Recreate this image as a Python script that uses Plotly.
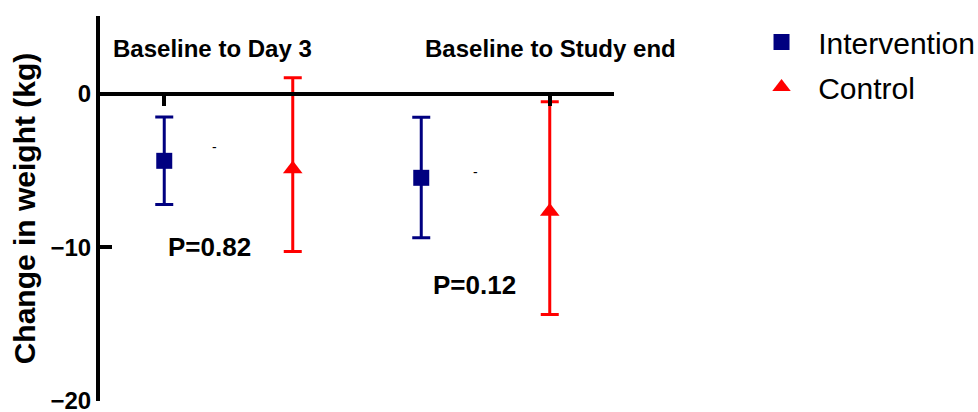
import plotly.graph_objects as go

# Data
positions_int = [1, 3]
positions_ctl = [2, 4]
int_mean = [-4.36, -5.47]
int_upper = [-1.50, -1.52]
int_lower = [-7.21, -9.38]
ctl_mean = [-4.9, -7.67]
ctl_upper = [1.06, -0.50]
ctl_lower = [-10.29, -14.4]
group_labels = ["Baseline to Day 3", "Baseline to Study end"]
p_labels = ["P=0.82", "P=0.12"]
y_ticks = [-20, -10, 0]

FONT = "Liberation Sans, Arial, sans-serif"
NAVY = "#000080"
RED = "#FF0000"

def err(mean, up, lo):
    return ([u - m for u, m in zip(up, mean)], [m - l for m, l in zip(mean, lo)])

ip, im = err(int_mean, int_upper, int_lower)
cp, cm = err(ctl_mean, ctl_upper, ctl_lower)

fig = go.Figure()
fig.add_trace(go.Scatter(
    x=positions_int, y=int_mean, mode="markers", name="\u00a0\u00a0Intervention",
    marker=dict(symbol="square", size=16, color=NAVY),
    error_y=dict(type="data", array=ip, arrayminus=im, color=NAVY, thickness=3, width=9),
    legendgroup="a",
))
fig.add_trace(go.Scatter(
    x=positions_ctl, y=ctl_mean, mode="markers", name="\u00a0\u00a0Control",
    marker=dict(symbol="triangle-up", size=17, color=RED),
    error_y=dict(type="data", array=cp, arrayminus=cm, color=RED, thickness=3, width=9),
    legendgroup="b",
))

ymin, ymax = -20.05, 5.1
zero_pos = (0 - ymin) / (ymax - ymin)

fig.update_layout(
    width=978, height=412,
    margin=dict(l=100, r=364, t=16, b=11, autoexpand=False),
    plot_bgcolor="white", paper_bgcolor="white",
    font=dict(family=FONT, color="black"),
    showlegend=True,
    legend=dict(x=1.287, y=1.0, xanchor="left", yanchor="top",
                font=dict(size=30, family=FONT, color="black"),
                tracegroupgap=3, traceorder="grouped",
                bgcolor="rgba(0,0,0,0)"),
    xaxis=dict(range=[0.5, 4.5], showgrid=False, zeroline=False,
               showline=True, linecolor="black", linewidth=4,
               anchor="free", position=zero_pos, automargin=False,
               tickvals=[1, 4], ticks="outside", ticklen=10, tickwidth=4,
               tickcolor="black", showticklabels=False),
    yaxis=dict(range=[ymin, ymax], showgrid=False, zeroline=False,
               showline=True, linecolor="black", linewidth=4, automargin=False,
               tickvals=y_ticks, ticks="inside", ticklen=12, tickwidth=4,
               tickcolor="black", ticklabeloverflow="allow",
               tickfont=dict(size=24, family=FONT, color="black", weight="bold"),
               title=dict(text="Change in weight (kg)", standoff=7,
                          font=dict(size=30, family=FONT, color="black", weight="bold"))),
)

# group titles
for xpos, txt in zip([0.585, 3.015], group_labels):
    fig.add_annotation(x=xpos, y=3.0, text=txt, showarrow=False, xanchor="left",
                       yanchor="middle",
                       font=dict(size=24, family=FONT, color="black", weight="bold"))
# p values
for xpos, ypos, txt in zip([1.35, 3.418], [-9.97, -12.44], p_labels):
    fig.add_annotation(x=xpos, y=ypos, text=txt, showarrow=False,
                       font=dict(size=26, family=FONT, color="black", weight="bold"))
# small stray dashes in original
for xpos, ypos in zip([1.39, 3.42], [-3.46, -5.1]):
    fig.add_annotation(x=xpos, y=ypos, text="-", showarrow=False,
                       font=dict(size=14, family=FONT, color="black"))

fig.write_html("out.html", config={"displayModeBar": False},
               post_script="document.body.style.margin='0';document.body.style.padding='0';")
